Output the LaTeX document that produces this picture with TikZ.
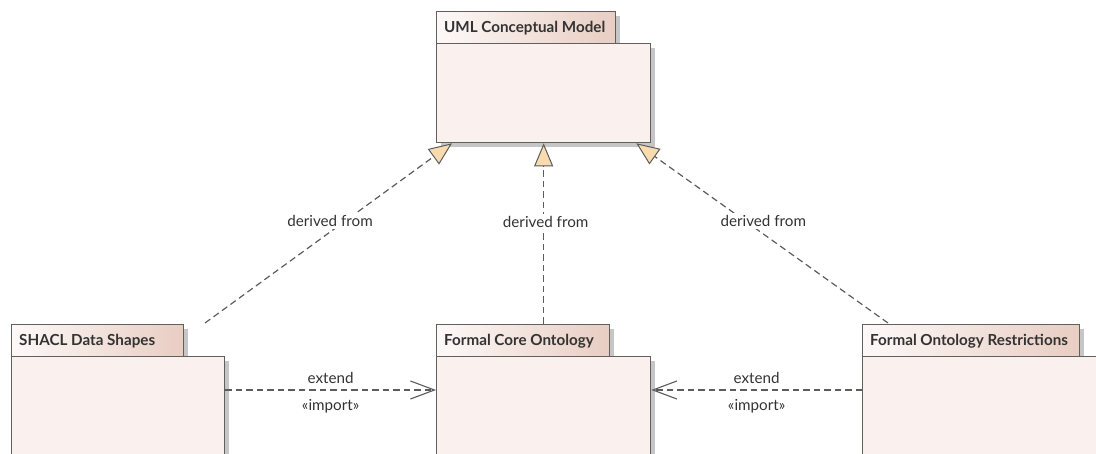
\documentclass[tikz,border=0pt]{standalone}
\usepackage{fontspec}
\setmainfont{Lato}
\usetikzlibrary{arrows.meta,calc,shadows}
\definecolor{bodyfill}{HTML}{FAF1EE}
\definecolor{tabL}{HTML}{FDF9F8}
\definecolor{tabR}{HTML}{E8CDC2}
\definecolor{edge}{HTML}{606060}
\definecolor{shade}{HTML}{C6C6C6}
\definecolor{tri}{HTML}{F8DCAF}
\definecolor{txt}{HTML}{333333}
\definecolor{conn}{HTML}{5C5C5C}
\tikzset{
  pkgshape/.style={draw=edge, line width=1.3pt, rectangle, inner sep=0pt,
    general shadow={fill=shade, shadow xshift=4pt, shadow yshift=-4pt}},
  tabbox/.style={pkgshape, left color=tabL, right color=tabR, minimum height=32pt, anchor=north west},
  bodybox/.style={pkgshape, fill=bodyfill, anchor=north west},
  title/.style={font=\bfseries\fontsize{15.2}{17}\selectfont, text=txt, anchor=base west, inner sep=0pt},
  lbl/.style={font=\fontsize{15.2}{17}\selectfont, text=txt, fill=white, inner sep=2pt},
  dlbl/.style={font=\fontsize{15.2}{17}\selectfont, text=txt, inner sep=0pt, anchor=base},
  gen/.style={draw=conn, line width=1.2pt, dash pattern=on 6.5pt off 4pt,
    -{Triangle[length=23pt,width=19pt,fill=tri,line width=1pt]}},
  dep/.style={draw=conn, line width=1.2pt, dash pattern=on 6.5pt off 4pt,
    -{Straight Barb[length=24pt,width=18pt,line width=1.1pt]}},
}
\begin{document}
\begin{tikzpicture}[x=1pt,y=-1pt]
\useasboundingbox (0,0) rectangle (1096,454);
\clip (0,0) rectangle (1096,454);
% UML Conceptual Model
\node[tabbox, minimum width=179pt] (umltab) at (436,11) {};
\node[title] (umltitle) at ($(umltab.north west)+(8,21.5)$) {UML Conceptual Model};
\node[bodybox, minimum width=214pt, minimum height=99pt] (uml) at (436,43) {};
% SHACL Data Shapes
\node[tabbox, minimum width=172pt] (shacltab) at (11,324) {};
\node[title] (shacltitle) at ($(shacltab.north west)+(8,21.5)$) {SHACL Data Shapes};
\node[bodybox, minimum width=213pt, minimum height=150pt] (shacl) at (11,356) {};
% Formal Core Ontology
\node[tabbox, minimum width=173pt] (coretab) at (436,324) {};
\node[title] (coretitle) at ($(coretab.north west)+(8,21.5)$) {Formal Core Ontology};
\node[bodybox, minimum width=214pt, minimum height=150pt] (core) at (436,356) {};
% Formal Ontology Restrictions
\node[tabbox, minimum width=217pt] (restab) at (862,324) {};
\node[title] (restitle) at ($(restab.north west)+(8,21.5)$) {Formal Ontology Restrictions};
\node[bodybox, minimum width=250pt, minimum height=150pt] (res) at (862,356) {};
% derived from
\coordinate (g1s) at (205,323);
\coordinate (g3s) at (888,323);
\draw[gen] (g1s) -- ($(uml.south west)+(16,0)$)
  node[lbl, pos=0.567, xshift=-15pt] (d1) {derived from};
\draw[gen] (coretab.north -| uml.south) -- (uml.south)
  node[lbl, pos=0.566, xshift=2pt] (d2) {derived from};
\draw[gen] (g3s) -- ($(uml.south east)+(-15,0)$)
  node[lbl, pos=0.567, xshift=18pt] (d3) {derived from};
% extend / import
\draw[dep] ($(shacl.north east)+(0,34)$) -- ($(core.north west)+(0,34)$)
  node[dlbl, pos=0.5, yshift=6pt] (e1) {extend}
  node[dlbl, pos=0.5, yshift=-20pt] (i1) {«import»};
\draw[dep] ($(res.north west)+(0,34)$) -- ($(core.north east)+(0,34)$)
  node[dlbl, pos=0.5, yshift=6pt] (e2) {extend}
  node[dlbl, pos=0.5, yshift=-20pt] (i2) {«import»};
\end{tikzpicture}
\end{document}
